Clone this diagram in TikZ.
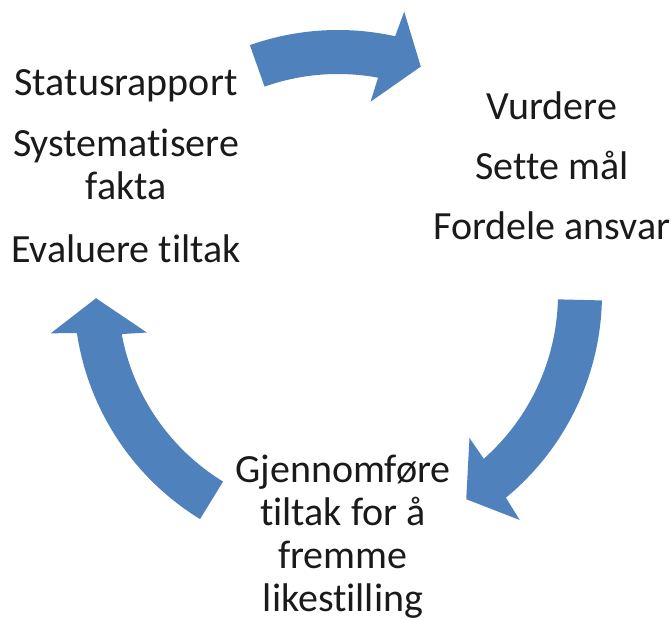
\documentclass[tikz,border=0pt]{standalone}
\usepackage{fontspec}
\setmainfont[Ligatures={NoCommon}]{Carlito}
\definecolor{arrowblue}{HTML}{4F81BD}
\definecolor{textdark}{HTML}{1A1A1A}
\newcommand{\cyclearrow}[2]{%
  \fill[arrowfill] (#1:264) arc[start angle=#1, end angle={#2+7.5}, radius=264]
    -- ({#2+6.8}:290) -- (#2:242) -- ({#2+10.4}:195) -- ({#2+9.5}:220)
    arc[start angle={#2+9.5}, end angle=#1, radius=220] -- cycle;}
\begin{document}
\begin{tikzpicture}[x=1pt,y=1pt,
  arrowfill/.style={fill=arrowblue},
  label/.style={align=center, inner sep=0pt, text=textdark,
    font=\fontsize{40}{43}\selectfont}]
\useasboundingbox (0,0) rectangle (672,620);
\begin{scope}[shift={(338,326)}]
  \cyclearrow{109.5}{70}
  \cyclearrow{-1.4}{-58}
  \cyclearrow{238.5}{181}
\end{scope}
\node[label, anchor=base] (left) at (126,357) {Statusrapport\\[18pt]Systematisere\\fakta\\[20pt]Evaluere tiltak};
\node[label, anchor=base] (right) at (552,380) {Vurdere\\[17pt]Sette mål\\[17pt]Fordele ansvar};
\node[label, anchor=base] (bottom) at (343,8) {Gjennomføre\\tiltak for å\\fremme\\likestilling};
\end{tikzpicture}
\end{document}
